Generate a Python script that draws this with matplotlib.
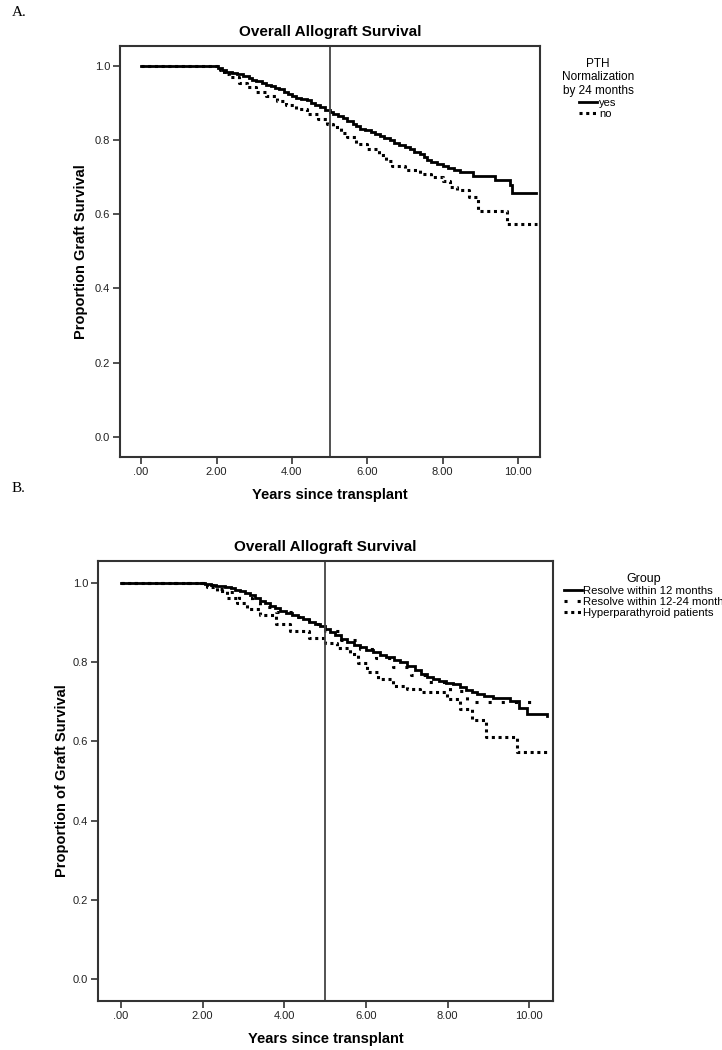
import numpy as np
import matplotlib.pyplot as plt
from matplotlib.lines import Line2D

plt.rcParams['font.family'] = ['Liberation Sans', 'DejaVu Sans']

# Panel A: PTH normalization by 24 months
a_yes_t = [0, 2.05, 2.15, 2.25, 2.42, 2.55, 2.7, 2.85, 2.95, 3.06, 3.2, 3.3, 3.45, 3.55, 3.67,
           3.8, 3.9, 4.0, 4.12, 4.25, 4.39, 4.5, 4.62, 4.75, 4.88, 5.0, 5.1, 5.22, 5.35, 5.45,
           5.61, 5.7, 5.8, 5.95, 6.1, 6.2, 6.33, 6.45, 6.6, 6.72, 6.85, 7.0, 7.12, 7.25, 7.4,
           7.5, 7.58, 7.7, 7.85, 8.0, 8.15, 8.3, 8.45, 8.8, 9.39, 9.78, 9.84, 10.48]
a_yes_s = [1.0, 0.995, 0.99, 0.986, 0.983, 0.978, 0.973, 0.968, 0.964, 0.96, 0.955, 0.95, 0.946,
           0.942, 0.938, 0.932, 0.925, 0.919, 0.915, 0.912, 0.908, 0.902, 0.896, 0.89, 0.883,
           0.876, 0.871, 0.866, 0.86, 0.852, 0.843, 0.838, 0.832, 0.827, 0.822, 0.818, 0.813,
           0.807, 0.8, 0.794, 0.787, 0.781, 0.776, 0.77, 0.762, 0.755, 0.746, 0.742, 0.737,
           0.731, 0.725, 0.719, 0.714, 0.705, 0.692, 0.68, 0.659, 0.659]
a_no_t = [0, 2.1, 2.2, 2.34, 2.6, 2.8, 3.06, 3.3, 3.6, 3.85, 4.1, 4.4, 4.7, 4.92, 5.1, 5.3, 5.45,
          5.7, 5.98, 6.3, 6.5, 6.65, 7.0, 7.4, 7.7, 8.0, 8.2, 8.37, 8.7, 8.94, 9.7, 10.5]
a_no_s = [1.0, 0.99, 0.98, 0.97, 0.955, 0.945, 0.93, 0.92, 0.907, 0.896, 0.885, 0.872, 0.857,
          0.843, 0.835, 0.82, 0.808, 0.79, 0.776, 0.76, 0.745, 0.732, 0.72, 0.71, 0.70, 0.69,
          0.675, 0.665, 0.648, 0.61, 0.573, 0.573]

# Panel B: three groups
b_12_t = [0, 2.06, 2.2, 2.32, 2.43, 2.55, 2.7, 2.8, 2.92, 3.05, 3.15, 3.28, 3.4, 3.52, 3.65,
          3.78, 3.9, 4.05, 4.2, 4.33, 4.46, 4.6, 4.75, 4.88, 5.0, 5.12, 5.25, 5.4, 5.54, 5.7,
          5.85, 6.0, 6.18, 6.35, 6.5, 6.68, 6.84, 7.0, 7.2, 7.35, 7.5, 7.65, 7.8, 7.95, 8.14,
          8.3, 8.45, 8.6, 8.72, 8.9, 9.1, 9.53, 9.75, 9.95, 10.44]
b_12_s = [1.0, 0.997, 0.995, 0.993, 0.992, 0.989, 0.986, 0.983, 0.98, 0.974, 0.968, 0.962, 0.955,
          0.949, 0.942, 0.936, 0.929, 0.923, 0.918, 0.913, 0.909, 0.902, 0.896, 0.89, 0.884,
          0.876, 0.868, 0.859, 0.85, 0.843, 0.837, 0.831, 0.825, 0.819, 0.812, 0.806, 0.80,
          0.79, 0.78, 0.771, 0.762, 0.757, 0.752, 0.748, 0.744, 0.737, 0.73, 0.724, 0.719,
          0.714, 0.71, 0.701, 0.685, 0.668, 0.663]
b_24_t = [0, 2.1, 2.35, 2.6, 2.9, 3.2, 3.4, 3.8, 4.22, 4.6, 5.0, 5.4, 5.86, 6.25, 6.67, 7.1, 7.5,
          8.06, 8.48, 10.1]
b_24_s = [1.0, 0.995, 0.985, 0.977, 0.962, 0.95, 0.94, 0.926, 0.914, 0.895, 0.878, 0.855, 0.833,
          0.81, 0.787, 0.768, 0.749, 0.727, 0.699, 0.694]
b_hy_t = [0, 2.1, 2.35, 2.6, 2.85, 3.09, 3.4, 3.8, 4.14, 4.6, 5.0, 5.3, 5.61, 5.8, 6.03, 6.3, 6.67,
          7.0, 7.33, 7.99, 8.3, 8.6, 8.94, 9.7, 10.5]
b_hy_s = [1.0, 0.99, 0.98, 0.962, 0.948, 0.934, 0.918, 0.896, 0.879, 0.862, 0.848, 0.835, 0.82,
          0.798, 0.775, 0.758, 0.74, 0.732, 0.724, 0.706, 0.681, 0.655, 0.61, 0.573, 0.573]

x_ticks = [0, 2, 4, 6, 8, 10]
x_labels = ['.00', '2.00', '4.00', '6.00', '8.00', '10.00']
y_ticks = [0.0, 0.2, 0.4, 0.6, 0.8, 1.0]

fig = plt.figure(figsize=(7.22, 10.5), dpi=100)
axA = fig.add_axes([0.1662, 0.5648, 0.5817, 0.3914])
axB = fig.add_axes([0.1357, 0.0467, 0.6302, 0.4190])

solid = dict(color='black', lw=2.0, solid_joinstyle='miter')
dots = dict(color='black', lw=2.2, linestyle=(0, (1, 1.2)))
sparse = dict(color='black', lw=2.2, linestyle=(0, (1, 3.3)))

axA.step(a_yes_t, a_yes_s, where='post', **solid)
axA.step(a_no_t, a_no_s, where='post', **dots)
axB.step(b_12_t, b_12_s, where='post', **solid)
axB.step(b_24_t, b_24_s, where='post', **sparse)
axB.step(b_hy_t, b_hy_s, where='post', **dots)


def style(ax, ylabel, ypad):
    ax.set_xlim(-0.56, 10.58)
    ax.set_ylim(-0.055, 1.055)
    ax.axvline(5, color='#444444', lw=1.3)
    for s in ax.spines.values():
        s.set_color('#333333')
        s.set_linewidth(1.5)
    ax.set_xticks(x_ticks)
    ax.set_xticklabels(x_labels)
    ax.set_yticks(y_ticks)
    ax.set_yticklabels(['%.1f' % v for v in y_ticks])
    ax.tick_params(length=5, width=1.2, color='#333333', labelsize=8, labelcolor='#222222', pad=2)
    ax.set_title('Overall Allograft Survival', fontsize=11, fontweight='bold', pad=7)
    ax.set_xlabel('Years since transplant', fontsize=10.5, fontweight='bold', labelpad=8)
    ax.set_ylabel(ylabel, fontsize=10.5, fontweight='bold', labelpad=ypad)


style(axA, 'Proportion Graft Survival', 5)
style(axB, 'Proportion of Graft Survival', 3)

# legends
legA = fig.legend([Line2D([], [], **solid), Line2D([], [], **dots)], ['yes', 'no'],
                  title='PTH\nNormalization\nby 24 months', alignment='center',
                  loc='upper center', bbox_to_anchor=(598 / 722, 1 - 52 / 1050),
                  frameon=False, fontsize=8, title_fontsize=8.5, handlelength=1.6,
                  handletextpad=0.2, labelspacing=0.1, borderpad=0)
legA.get_title().set_multialignment('center')

legB = fig.legend([Line2D([], [], **solid), Line2D([], [], **sparse), Line2D([], [], **dots)],
                  ['Resolve within 12 months', 'Resolve within 12-24 month',
                   'Hyperparathyroid patients'], title='Group', alignment='center',
                  loc='upper left', bbox_to_anchor=(558 / 722, 1 - 567 / 1050),
                  frameon=False, fontsize=8.2, title_fontsize=9, handlelength=1.6,
                  handletextpad=0.1, labelspacing=0.1, borderpad=0)

fig.text(12 / 722, 1 - 12 / 1050, 'A.', family='Liberation Serif', fontsize=11, va='center')
fig.text(12 / 722, 1 - 488 / 1050, 'B.', family='Liberation Serif', fontsize=11, va='center')

fig.savefig('out.png', dpi=100)
